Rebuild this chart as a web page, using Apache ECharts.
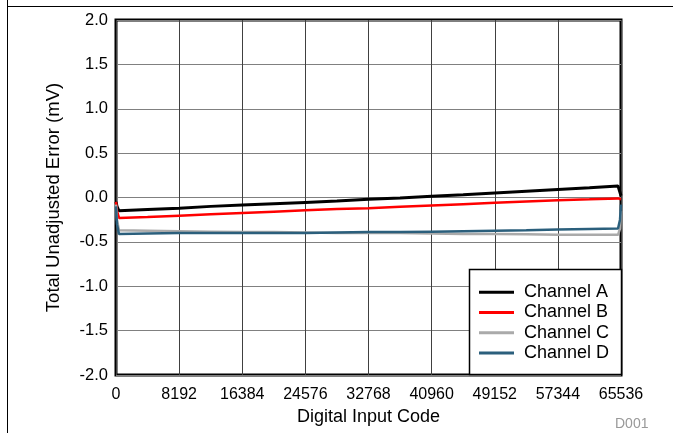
<!DOCTYPE html>
<html>
<head>
<meta charset="utf-8">
<script src="https://cdn.jsdelivr.net/npm/echarts@6/dist/echarts.min.js"></script>
<style>
  html, body { margin: 0; padding: 0; background: #fff; }
  #chart { width: 673px; height: 433px; }
</style>
</head>
<body>
<div id="chart"></div>
<script>
// Digital input codes at which the error was sampled
const codes = [0, 128, 384, 4096, 8192, 12288, 16384, 20480, 24576, 28672, 32768,
  36864, 40960, 45056, 49152, 53248, 57344, 61440, 65152, 65408, 65535];

// Total unadjusted error per channel (mV)
const channelA = [-0.05, -0.10, -0.15, -0.135, -0.12, -0.10, -0.085, -0.07, -0.055, -0.04, -0.02,
  -0.005, 0.015, 0.03, 0.05, 0.07, 0.09, 0.11, 0.13, 0.14, 0.02];
const channelB = [-0.05, -0.15, -0.23, -0.22, -0.205, -0.19, -0.175, -0.16, -0.145, -0.13, -0.12,
  -0.105, -0.09, -0.075, -0.06, -0.045, -0.03, -0.02, -0.01, -0.01, -0.02];
const channelC = [-0.08, -0.25, -0.37, -0.375, -0.38, -0.385, -0.39, -0.39, -0.395, -0.40, -0.40,
  -0.40, -0.405, -0.41, -0.41, -0.415, -0.42, -0.42, -0.42, -0.35, -0.15];
const channelD = [-0.10, -0.30, -0.41, -0.405, -0.40, -0.40, -0.40, -0.40, -0.40, -0.395, -0.39,
  -0.39, -0.385, -0.38, -0.375, -0.37, -0.36, -0.355, -0.35, -0.25, -0.08];

const seriesNames = ['Channel A', 'Channel B', 'Channel C', 'Channel D'];
const seriesColors = ['#000000', '#ff0000', '#aaaaaa', '#2b5f7c'];
const seriesValues = [channelA, channelB, channelC, channelD];

const font = 'Liberation Sans, Arial, sans-serif';

const chart = echarts.init(document.getElementById('chart'), null, { renderer: 'canvas' });

chart.setOption({
  animation: false,
  backgroundColor: '#fff',
  grid: {
    left: 116, right: 52, top: 20, bottom: 58,
    show: true, borderColor: '#000', borderWidth: 3, backgroundColor: 'transparent'
  },
  xAxis: {
    type: 'value',
    min: 0, max: 65536, interval: 8192,
    name: 'Digital Input Code',
    nameLocation: 'middle',
    nameGap: 29,
    nameTextStyle: { fontFamily: font, fontSize: 18, color: '#000' },
    axisLine: { show: false },
    axisTick: { show: false },
    axisLabel: { fontFamily: font, fontSize: 16, color: '#000', margin: 12, formatter: v => String(v) },
    splitLine: { show: true, lineStyle: { color: '#404040', width: 1 } }
  },
  yAxis: {
    type: 'value',
    min: -2, max: 2, interval: 0.5,
    name: 'Total Unadjusted Error (mV)',
    nameLocation: 'middle',
    nameGap: 53,
    nameTextStyle: { fontFamily: font, fontSize: 18.5, color: '#000' },
    axisLine: { show: false },
    axisTick: { show: false },
    axisLabel: {
      fontFamily: font, fontSize: 16.5, color: '#000', margin: 8,
      formatter: v => v.toFixed(1)
    },
    splitLine: { show: true, lineStyle: { color: '#808080', width: 1 } }
  },
  legend: {
    orient: 'vertical',
    left: 469, top: 269,
    padding: [13, 10, 10, 10],
    z: 11,
    itemGap: 0,
    itemWidth: 35,
    itemHeight: 3,
    icon: 'rect',
    textStyle: { fontFamily: font, fontSize: 18, color: '#000', lineHeight: 20.3, padding: [0, 0, 0, 5] },
    data: seriesNames
  },
  series: seriesNames.map((name, i) => ({
    name: name,
    type: 'line',
    showSymbol: false,
    symbol: 'none',
    color: seriesColors[i],
    lineStyle: { color: seriesColors[i], width: i === 0 ? 3 : 2.5 },
    data: codes.map((c, k) => [c, seriesValues[i][k]]),
    z: 2 + i
  })),
  graphic: [
    { type: 'line', shape: { x1: 7.5, y1: 0, x2: 7.5, y2: 433 }, style: { stroke: '#000', lineWidth: 1 } },
    { type: 'line', shape: { x1: 7, y1: 6.5, x2: 673, y2: 6.5 }, style: { stroke: '#000', lineWidth: 1 } },
    // legend frame
    { type: 'rect', z: 10, shape: { x: 469.5, y: 269.5, width: 152, height: 105 },
      style: { fill: '#fff', stroke: '#000', lineWidth: 1.5 } },
    { type: 'text', left: 615, top: 417, style: { text: 'D001', font: '14px ' + font, fill: '#999' } }
  ]
});
</script>
</body>
</html>
